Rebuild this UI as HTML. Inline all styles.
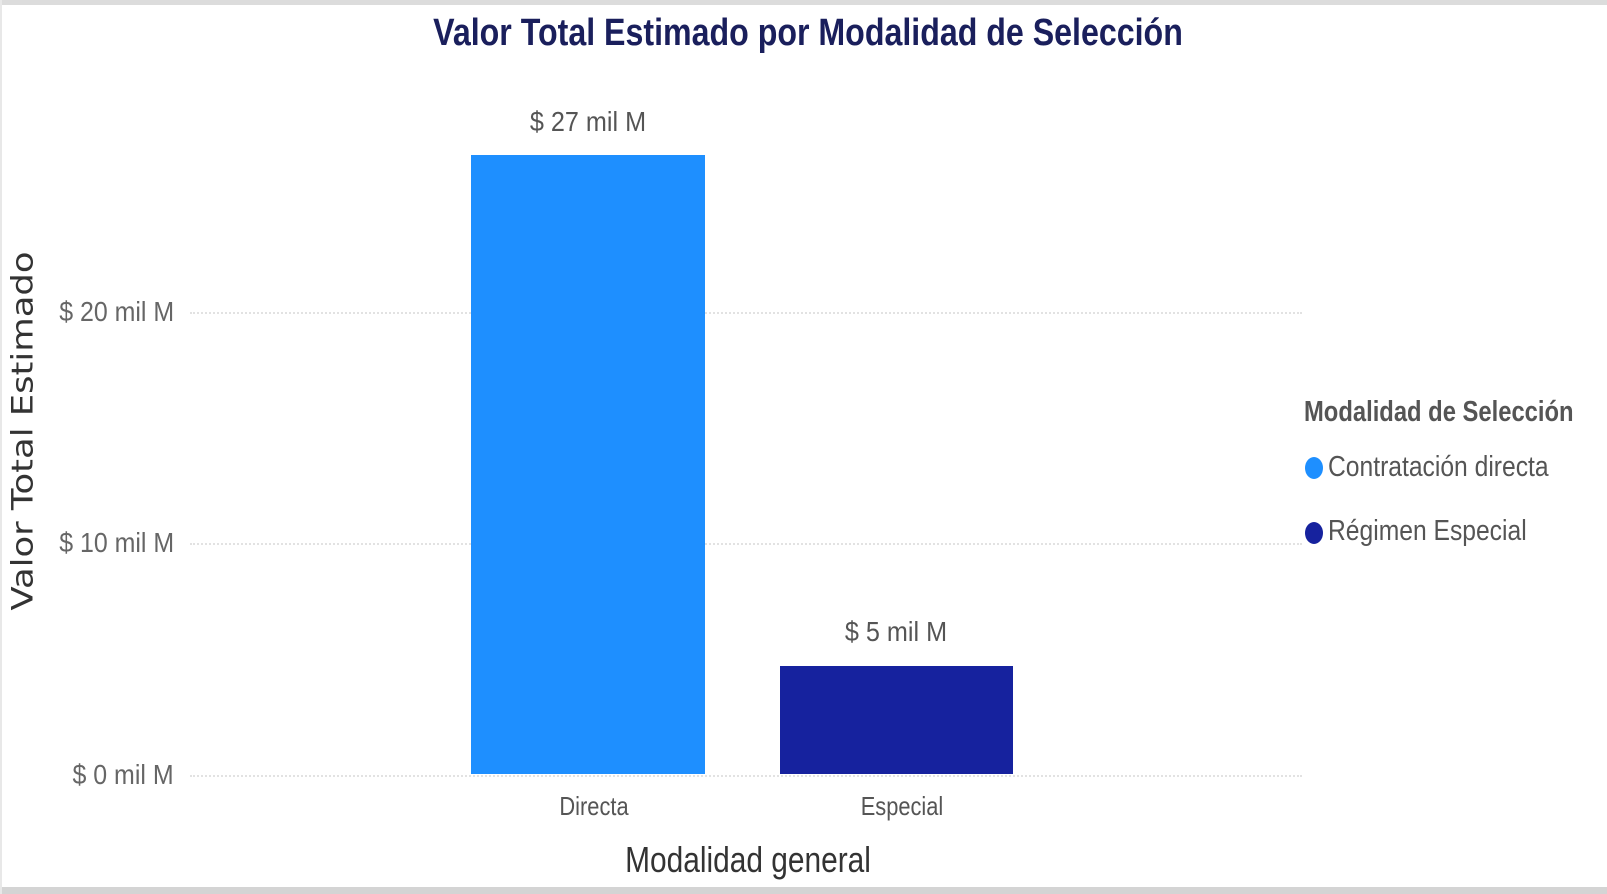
<!DOCTYPE html>
<html><head><meta charset="utf-8"><style>
body{margin:0;width:1607px;height:894px;background:#fff;overflow:hidden;position:relative;font-family:"Liberation Sans",sans-serif}
.t{position:absolute;white-space:nowrap;line-height:1}
.grid{position:absolute;left:190px;width:1112px;border-top:2px dotted #e2e2e2;height:0}
.bar{position:absolute}
.dot{position:absolute;width:18px;height:22px;border-radius:50%}
.r{transform-origin:right center;transform:scaleX(0.89)}
.l{transform-origin:left center}
</style></head><body>
<div style="position:absolute;left:0;top:0;width:1607px;height:5px;background:#dcdcdc"></div>
<div style="position:absolute;left:0;top:887px;width:1607px;height:7px;background:#d4d4d4"></div>
<div style="position:absolute;left:0;top:0;width:2px;height:894px;background:#e8e8e8"></div>
<div class="t" style="left:808px;top:14px;transform:translateX(-50%) scaleX(0.846);font-size:38px;font-weight:bold;color:#1a1f5c">Valor Total Estimado por Modalidad de Selección</div>
<div class="grid" style="top:312px"></div>
<div class="grid" style="top:543px"></div>
<div class="grid" style="top:775px"></div>
<div class="t r" style="right:1433px;top:298px;font-size:28px;color:#666">$ 20 mil M</div>
<div class="t r" style="right:1433px;top:529px;font-size:28px;color:#666">$ 10 mil M</div>
<div class="t r" style="right:1433px;top:761px;font-size:28px;color:#666">$ 0 mil M</div>
<div class="bar" style="left:471px;top:155px;width:234px;height:619px;background:#1e8fff"></div>
<div class="bar" style="left:780px;top:666px;width:233px;height:108px;background:#16229e"></div>
<div class="t" style="left:588px;top:108px;transform:translateX(-50%) scaleX(0.9);font-size:28px;color:#555">$ 27 mil M</div>
<div class="t" style="left:896px;top:618px;transform:translateX(-50%) scaleX(0.9);font-size:28px;color:#555">$ 5 mil M</div>
<div class="t" style="left:594px;top:793px;transform:translateX(-50%) scaleX(0.84);font-size:26px;color:#555">Directa</div>
<div class="t" style="left:902px;top:793px;transform:translateX(-50%) scaleX(0.84);font-size:26px;color:#555">Especial</div>
<div class="t" style="left:748px;top:842px;transform:translateX(-50%) scaleX(0.83);font-size:36px;color:#333">Modalidad general</div>
<div class="t" style="left:23px;top:431px;transform:translate(-50%,-50%) rotate(-90deg) scaleX(1.22);font-family:'DejaVu Sans',sans-serif;font-size:29px;color:#333">Valor Total Estimado</div>
<div class="t l" style="left:1304px;top:398px;transform:scaleX(0.82);font-size:29px;font-weight:bold;color:#555">Modalidad de Selección</div>
<div class="dot" style="left:1305px;top:457px;background:#1e8fff"></div>
<div class="t l" style="left:1328px;top:453px;transform:scaleX(0.85);font-size:29px;color:#555">Contratación directa</div>
<div class="dot" style="left:1305px;top:522px;background:#16229e"></div>
<div class="t l" style="left:1328px;top:517px;transform:scaleX(0.85);font-size:29px;color:#555">Régimen Especial</div>
</body></html>
